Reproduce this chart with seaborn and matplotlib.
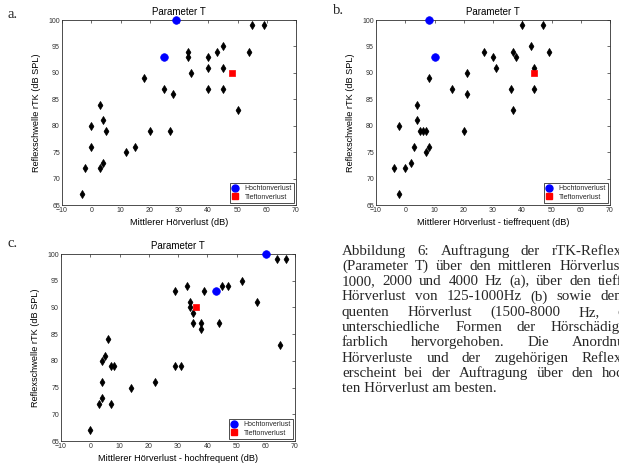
import numpy as np
import pandas as pd
import matplotlib
matplotlib.use("Agg")
import matplotlib.pyplot as plt
from matplotlib.lines import Line2D
import seaborn as sns

# ---------------- data ----------------
x_ticks = [-10, 0, 10, 20, 30, 40, 50, 60, 70]
y_ticks = [65, 70, 75, 80, 85, 90, 95, 100]

# panel a: mittlerer Hörverlust
a_x = [-3, -2, 0, 0, 3, 3, 4, 4, 5, 12, 15, 18, 20, 25, 27, 28, 33, 33, 34,
       40, 40, 40, 43, 45, 45, 45, 50, 54, 55, 59]
a_y = [67, 72, 76, 80, 72, 84, 73, 81, 79, 75, 76, 89, 79, 87, 79, 86, 94, 93, 90,
       93, 91, 87, 94, 95, 91, 87, 83, 94, 99, 99]
a_hoch_x = [25, 29]
a_hoch_y = [93, 100]
a_tief_x = [48]
a_tief_y = [90]

# panel b: tieffrequenter Hörverlust
b_x = [-4, -2, -2, 0, 2, 3, 4, 4, 5, 6, 7, 7, 8, 8, 16, 20, 21, 21, 27, 30, 31,
       36, 37, 37, 38, 40, 43, 44, 44, 47, 49]
b_y = [72, 67, 80, 72, 73, 76, 84, 81, 79, 79, 79, 75, 76, 89, 87, 79, 90, 86, 94, 93, 91,
       87, 94, 83, 93, 99, 95, 91, 87, 99, 94]
b_hoch_x = [8, 10]
b_hoch_y = [100, 93]
b_tief_x = [44]
b_tief_y = [90]

# panel c: hochfrequenter Hörverlust
c_x = [0, 3, 4, 4, 4, 5, 6, 7, 7, 8, 14, 22, 29, 29, 31, 33, 34, 34, 35, 35,
       38, 38, 39, 44, 45, 47, 52, 57, 64, 65, 67]
c_y = [67, 72, 73, 76, 80, 81, 84, 72, 79, 79, 75, 76, 93, 79, 79, 94, 91, 90, 89, 87,
       87, 86, 93, 87, 94, 94, 95, 91, 99, 83, 99]
c_hoch_x = [43, 60]
c_hoch_y = [93, 100]
c_tief_x = [36]
c_tief_y = [90]

title_text = "Parameter T"
y_label = "Reflexschwelle rTK (dB SPL)"
x_labels = ["Mittlerer Hörverlust (dB)",
            "Mittlerer Hörverlust - tieffrequent (dB)",
            "Mittlerer Hörverlust - hochfrequent (dB)"]
legend_labels = ["Hochtonverlust", "Tieftonverlust"]
panel_labels = ["a.", "b.", "c."]

caption_lines = [
    "Abbildung 6: Auftragung der rTK-Reflexschwellen",
    "(Parameter T) über den mittleren Hörverlust bei 500,",
    "1000, 2000 und 4000 Hz (a), über den tieffrequenten",
    "Hörverlust von 125-1000Hz (b) sowie den hochfre-",
    "quenten Hörverlust (1500-8000 Hz, c). Zwei",
    "unterschiedliche Formen der Hörschädigung sind",
    "farblich hervorgehoben. Die Anordnung der",
    "Hörverluste und der zugehörigen Reflexschwellen",
    "erscheint bei der Auftragung über den hochfrequen-",
    "ten Hörverlust am besten.",
]

# ---------------- style ----------------
sns.set_theme(style="white")
plt.rcParams['font.family'] = ['Liberation Sans', 'DejaVu Sans']

W, H = 619, 465
fig = plt.figure(figsize=(W / 100, H / 100), dpi=100)
fig.patch.set_facecolor("white")


def px_axes(l, r, t, b):
    return fig.add_axes([l / W, 1 - b / H, (r - l) / W, (b - t) / H])


ax_a = px_axes(62, 296, 20, 205)
ax_b = px_axes(376, 610, 20, 205)
ax_c = px_axes(61, 295, 254, 441)

axis_col = "#303030"


def draw(ax, bx, by, hx, hy, tx, ty, xlabel):
    df_b = pd.DataFrame({"x": bx, "y": by})
    df_h = pd.DataFrame({"x": hx, "y": hy})
    df_t = pd.DataFrame({"x": tx, "y": ty})
    sns.scatterplot(data=df_b, x="x", y="y", ax=ax, marker="d", s=16,
                    color="black", edgecolor="black", linewidth=0.6,
                    clip_on=False, zorder=3, legend=False)
    sns.scatterplot(data=df_h, x="x", y="y", ax=ax, marker="o", s=30,
                    color="#0000ff", edgecolor="#0000ff", linewidth=0.5,
                    clip_on=False, zorder=4, legend=False)
    sns.scatterplot(data=df_t, x="x", y="y", ax=ax, marker="s", s=22,
                    color="#ff0000", edgecolor="#ff0000", linewidth=0.5,
                    clip_on=False, zorder=4, legend=False)
    ax.set_xlim(-10, 70)
    ax.set_ylim(65, 100)
    ax.set_xticks(x_ticks)
    ax.set_yticks(y_ticks)
    ax.tick_params(direction="in", length=2.2, width=0.5, top=True, right=True,
                   labelsize=5, colors=axis_col, pad=1.5)
    for sp in ax.spines.values():
        sp.set_visible(True)
        sp.set_color(axis_col)
        sp.set_linewidth(0.6)
    ax.set_xlabel(xlabel, fontsize=6.6, labelpad=3, color="black")
    ax.set_ylabel(y_label, fontsize=6.6, labelpad=5, color="black")
    ax.set_title(title_text, fontsize=7, pad=3.5, color="black")
    handles = [
        Line2D([], [], marker="o", color="#0000ff", linestyle="none", markersize=5),
        Line2D([], [], marker="s", color="#ff0000", linestyle="none", markersize=4.3),
    ]
    leg = ax.legend(handles, legend_labels, loc="lower right", fontsize=5,
                    frameon=True, fancybox=False, edgecolor=axis_col,
                    borderaxespad=0.25, handlelength=1.0, handletextpad=0.8,
                    borderpad=0.35, labelspacing=0.25, framealpha=1)
    leg.get_frame().set_linewidth(0.6)


draw(ax_a, a_x, a_y, a_hoch_x, a_hoch_y, a_tief_x, a_tief_y, x_labels[0])
draw(ax_b, b_x, b_y, b_hoch_x, b_hoch_y, b_tief_x, b_tief_y, x_labels[1])
draw(ax_c, c_x, c_y, c_hoch_x, c_hoch_y, c_tief_x, c_tief_y, x_labels[2])

serif = ['Liberation Serif', 'DejaVu Serif']
for lab, (px, py) in zip(panel_labels, [(8, 14), (333, 10), (8, 243)]):
    fig.text(px / W, 1 - py / H, lab, family=serif, fontsize=10.5,
             va="center", ha="left")

# ---------------- caption (justified) ----------------
renderer = fig.canvas.get_renderer()
cap_left = 342
cap_right = 682
cap_y0 = 251
cap_dy = 15.3
cap_fs = 10.8

for i, line in enumerate(caption_lines):
    yy = 1 - (cap_y0 + i * cap_dy) / H
    words = line.split(" ")
    if i == len(caption_lines) - 1 or len(words) == 1:
        fig.text(cap_left / W, yy, line, family=serif, fontsize=cap_fs,
                 va="center", ha="left")
        continue
    texts = [fig.text(0, yy, w, family=serif, fontsize=cap_fs, va="center", ha="left")
             for w in words]
    widths = [t.get_window_extent(renderer).width for t in texts]
    gap = (cap_right - cap_left - sum(widths)) / (len(words) - 1)
    xpos = cap_left
    for t, wdt in zip(texts, widths):
        t.set_x(xpos / W)
        xpos += wdt + gap

fig.savefig("out.png", dpi=100)
